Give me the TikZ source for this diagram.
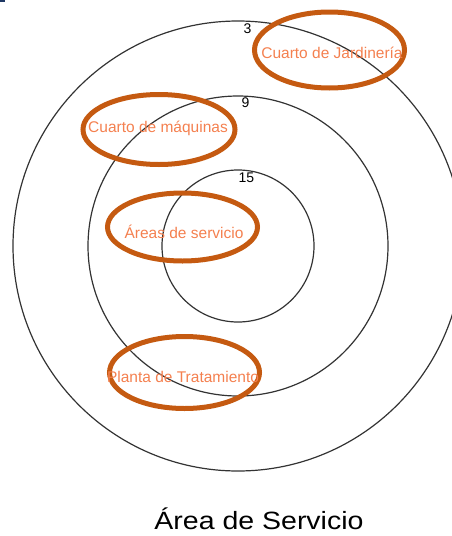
\documentclass[tikz,border=0pt]{standalone}
\usepackage{fontspec}
\setmainfont{Liberation Sans}
\usetikzlibrary{shapes.geometric}
\definecolor{ringc}{HTML}{333333}
\definecolor{ellc}{HTML}{C55A11}
\definecolor{txtc}{HTML}{F4804F}
\definecolor{navy}{HTML}{1F3864}
\begin{document}
\begin{tikzpicture}[x=1pt,y=-1pt,
  ring/.style={draw=ringc,line width=1.2pt,circle,inner sep=0pt},
  zone/.style={draw=ellc,line width=5pt,ellipse,inner sep=0pt},
  zonetext/.style={text=txtc,font=\fontsize{15.5}{18}\selectfont,inner sep=0pt},
  numtext/.style={text=black,font=\fontsize{14}{16}\selectfont,inner sep=0pt},
  titletext/.style={text=black,font=\fontsize{25}{30}\selectfont,inner sep=0pt,xscale=1.14}]
\useasboundingbox (0,0) rectangle (452,536);
\clip (0,0) rectangle (452,536);
\fill[navy] (0,0) rectangle (5,2);
% rings
\node[ring,minimum size=450pt] (outer) at (238,246) {};
\node[ring,minimum size=300pt] (middle) at (238,246) {};
\node[ring,minimum size=152pt] (inner) at (238,246) {};
% ring numbers
\node[numtext] (n3) at (247.5,29) {3};
\node[numtext] (n9) at (245.5,103) {9};
\node[numtext] (n15) at (246.5,178) {15};
% zones
\node[zone,minimum width=150pt,minimum height=76pt] (e1) at (329.5,50) {};
\node[zone,minimum width=152pt,minimum height=70pt] (e2) at (159,129.5) {};
\node[zone,minimum width=150pt,minimum height=68pt] (e3) at (182.5,227) {};
\node[zone,minimum width=150pt,minimum height=72pt] (e4) at (184.5,372.5) {};
\node[zonetext] (t1) at (332,53) {Cuarto de Jardinería};
\node[zonetext] (t2) at (158,128) {Cuarto de máquinas};
\node[zonetext] (t3) at (184,232) {Áreas de servicio};
\node[zonetext] (t4) at (183,377) {Planta de Tratamiento};
% title
\node[titletext] (title) at (259,519) {Área de Servicio};
\end{tikzpicture}
\end{document}
